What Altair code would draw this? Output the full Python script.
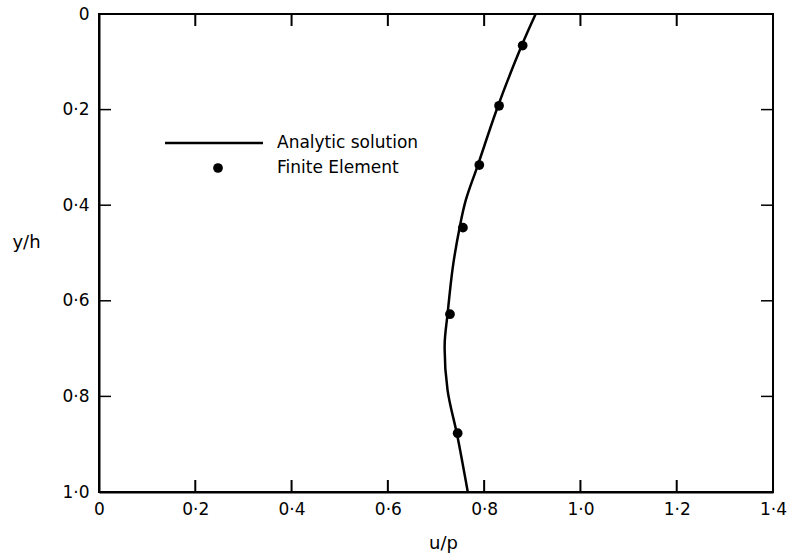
import altair as alt
import pandas as pd

# Analytic solution curve
curve_y = [0.0, 0.066, 0.192, 0.316, 0.389, 0.447, 0.529, 0.628, 0.692, 0.787, 0.881, 1.0]
curve_u = [0.907, 0.878, 0.829, 0.787, 0.762, 0.749, 0.735, 0.724, 0.718, 0.724, 0.744, 0.766]

# Finite element points
fe_y = [0.066, 0.192, 0.316, 0.447, 0.628, 0.877]
fe_u = [0.880, 0.831, 0.790, 0.756, 0.729, 0.745]

x_ticks = [0, 0.2, 0.4, 0.6, 0.8, 1.0, 1.2, 1.4]
y_ticks = [0, 0.2, 0.4, 0.6, 0.8, 1.0]
x_inner = [0.2, 0.4, 0.6, 0.8, 1.0, 1.2]
y_inner = [0.2, 0.4, 0.6, 0.8]

legend_labels = ["Analytic solution", "Finite Element"]

W, H = 674, 478
FONT = "DejaVu Sans"
TL = 12

curve_df = pd.DataFrame({"u": curve_u, "yh": curve_y, "i": range(len(curve_u))})
fe_df = pd.DataFrame({"u": fe_u, "yh": fe_y})
xt_df = pd.DataFrame({"xt": x_inner})
yt_df = pd.DataFrame({"yt": y_inner})

lab = "datum.value == 0 ? '0' : replace(format(datum.value, '.1f'), '.', '\u00b7')"

xscale = alt.Scale(domain=[0, 1.4], nice=False, zero=False)
yscale = alt.Scale(domain=[0, 1.0], reverse=True, nice=False, zero=False)

xaxis = alt.Axis(values=x_ticks, labelExpr=lab, ticks=False, grid=False, title="u/p",
                 labelFlush=False, labelPadding=9, labelFontSize=17, labelFont=FONT,
                 titleFont=FONT, titleFontSize=18, titleFontWeight="normal",
                 titleX=344, titleY=51, titleBaseline="middle",
                 domainColor="black", domainWidth=2, labelColor="black", titleColor="black")
yaxis = alt.Axis(values=y_ticks, labelExpr=lab, ticks=False, grid=False, title="y/h",
                 labelFlush=False, labelPadding=10, labelFontSize=17, labelFont=FONT,
                 titleFont=FONT, titleFontSize=18, titleFontWeight="normal",
                 titleAngle=0, titleX=-73, titleY=228, titleAlign="center", titleBaseline="middle",
                 domainColor="black", domainWidth=2, labelColor="black", titleColor="black")

line = alt.Chart(curve_df).mark_line(color="black", strokeWidth=2.5, interpolate="catmull-rom").encode(
    x=alt.X("u:Q", scale=xscale, axis=xaxis),
    y=alt.Y("yh:Q", scale=yscale, axis=yaxis),
    order="i:Q",
)
pts = alt.Chart(fe_df).mark_circle(color="black", size=95, opacity=1).encode(
    x=alt.X("u:Q", scale=xscale),
    y=alt.Y("yh:Q", scale=yscale),
)

# inward ticks on all four sides (vertical ones drawn as line segments x -> x2)
tb = alt.Chart(xt_df).mark_rule(color="black", strokeWidth=2).encode(
    x=alt.X("xt:Q", scale=xscale), x2=alt.X2("xt:Q"), y=alt.value(H - TL), y2=alt.value(H))
tt = alt.Chart(xt_df).mark_rule(color="black", strokeWidth=2).encode(
    x=alt.X("xt:Q", scale=xscale), x2=alt.X2("xt:Q"), y=alt.value(0), y2=alt.value(TL))
tl = alt.Chart(yt_df).mark_rule(color="black", strokeWidth=1.5).encode(
    y=alt.Y("yt:Q", scale=yscale), x=alt.value(0), x2=alt.value(TL))
tr = alt.Chart(yt_df).mark_rule(color="black", strokeWidth=1.5).encode(
    y=alt.Y("yt:Q", scale=yscale), x=alt.value(W), x2=alt.value(W - TL))

# manual legend
one = pd.DataFrame({"k": [0]})
leg_line = alt.Chart(one).mark_rule(color="black", strokeWidth=2.5).encode(
    x=alt.value(66), x2=alt.value(164), y=alt.value(129))
leg_dot = alt.Chart(one).mark_circle(color="black", size=95, opacity=1).encode(
    x=alt.value(119), y=alt.value(154))
leg_t1 = alt.Chart(one).mark_text(align="left", baseline="middle", font=FONT, fontSize=17,
                                  color="black", text=legend_labels[0]).encode(
    x=alt.value(178), y=alt.value(129))
leg_t2 = alt.Chart(one).mark_text(align="left", baseline="middle", font=FONT, fontSize=17,
                                  color="black", text=legend_labels[1]).encode(
    x=alt.value(178), y=alt.value(154))

chart = alt.layer(line, pts, tb, tt, tl, tr, leg_line, leg_dot, leg_t1, leg_t2).properties(
    width=W, height=H,
    autosize=alt.AutoSizeParams(type="none"),
    padding={"left": 99, "top": 14, "right": 18, "bottom": 68},
    background="white",
).configure_view(stroke="black", strokeWidth=2)

chart.save("out.html", embed_options={"renderer": "svg", "actions": False})
